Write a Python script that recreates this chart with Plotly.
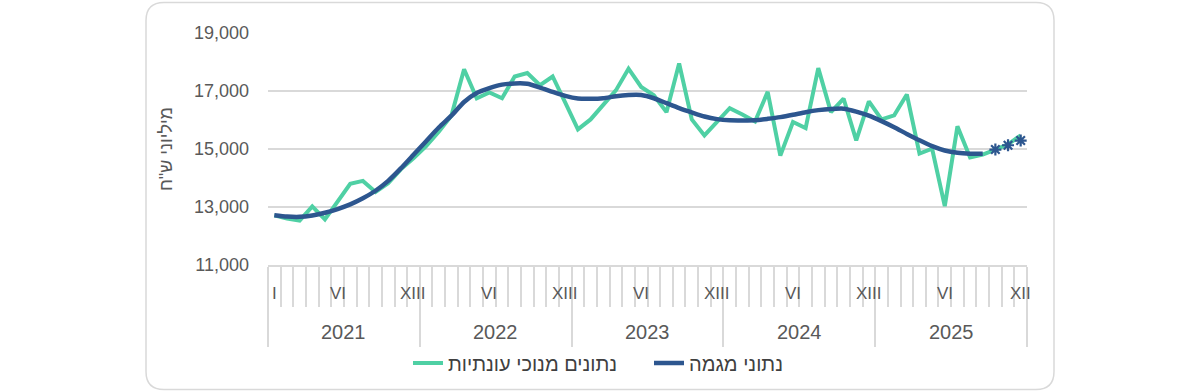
import plotly.graph_objects as go

# ---------------- data ----------------
years = ["2021", "2022", "2023", "2024", "2025"]
month_index = list(range(60))

seasonally_adjusted = [
    12710, 12600, 12530, 13020, 12570, 13180, 13800, 13900, 13520, 13820, 14300, 14680,
    15100, 15600, 16150, 17750, 16750, 16950, 16750, 17500, 17620, 17200, 17500, 16600,
    15680, 16020, 16500, 17020, 17770, 17140, 16850, 16270, 17950, 16020, 15470, 15950,
    16410, 16190, 15950, 16970, 14770, 15930, 15720, 17790, 16270, 16740, 15300, 16640,
    16020, 16160, 16880, 14840, 15010, 13030, 15780, 14710, 14810, 14980, 15160, 15470,
]

trend = [
    12715, 12670, 12660, 12710, 12800, 12930, 13090, 13300, 13560, 13900, 14330, 14800,
    15270, 15740, 16150, 16620, 16930, 17100, 17220, 17260, 17250, 17120, 16970, 16830,
    16740, 16730, 16750, 16820, 16860, 16860, 16750, 16580, 16410, 16260, 16120, 16030,
    15990, 15985, 15990, 16040, 16100, 16180, 16270, 16340, 16380, 16390, 16290, 16150,
    15960, 15750, 15520, 15300, 15100, 14950, 14870, 14840, 14840, 14980, 15130, 15290,
]
n_final_trend = 57  # last three trend points are shown as markers only

month_tick_pos = [0, 5, 11, 17, 23, 29, 35, 41, 47, 53, 59]
month_tick_text = ["I", "VI", "XIII", "VI", "XIII", "VI", "XIII", "VI", "XIII", "VI", "XII"]

y_ticks = [11000, 13000, 15000, 17000, 19000]

name_sa = "נתונים מנוכי עונתיות"
name_trend = "נתוני מגמה"
y_title = 'מיליוני ש"ח'

# ---------------- style ----------------
GREEN = "#4fd0a4"
BLUE = "#2d568f"
GRID = "#d9d9d9"
TXT = "#595959"
FONT = "Arial, 'Liberation Sans', sans-serif"

W, H = 1200, 392
ML, MR, MT, MB = 268, 173, 33, 127
PW, PH = W - ML - MR, H - MT - MB

fig = go.Figure()
fig.add_trace(go.Scatter(
    x=month_index, y=seasonally_adjusted, mode="lines", name=name_sa,
    line=dict(color=GREEN, width=4), hoverinfo="skip"))
fig.add_trace(go.Scatter(
    x=month_index[:n_final_trend], y=trend[:n_final_trend], mode="lines", name=name_trend,
    line=dict(color=BLUE, width=4.5, shape="spline", smoothing=0.6), hoverinfo="skip"))
fig.add_trace(go.Scatter(
    x=month_index[n_final_trend:], y=trend[n_final_trend:], mode="markers", showlegend=False,
    marker=dict(symbol="asterisk-open", size=10, line=dict(color=BLUE, width=2.2), color=BLUE),
    hoverinfo="skip"))

year_bounds = [i * 12 - 0.5 for i in range(len(years) + 1)]

fig.update_xaxes(
    range=[-0.5, len(month_index) - 0.5], showgrid=False, zeroline=False,
    showline=True, linecolor=GRID, linewidth=1.5,
    tickmode="array", tickvals=year_bounds, ticks="outside", ticklen=80,
    tickwidth=1.5, tickcolor=GRID, showticklabels=False,
    minor=dict(tick0=-0.5, dtick=1, ticks="outside", ticklen=40, tickwidth=1.5, tickcolor=GRID),
)
fig.update_yaxes(
    range=[11000, 19000], tickvals=y_ticks, tickformat=",d", showgrid=True,
    gridcolor=GRID, gridwidth=1.5, zeroline=False, showline=False, ticks="",
    ticklabelstandoff=18, tickfont=dict(size=18, color=TXT, family=FONT),
    title=dict(text=y_title, font=dict(size=18, color=TXT, family=FONT), standoff=16),
)

# category labels (month row + year row)
for pos, txt in zip(month_tick_pos, month_tick_text):
    fig.add_annotation(x=pos, y=(MT + PH - 293) / PH, xref="x", yref="paper",
                       text=txt, showarrow=False, xanchor="center", yanchor="middle",
                       font=dict(size=17, color=TXT, family=FONT))
for k, yr in enumerate(years):
    fig.add_annotation(x=k * 12 + 5.5, y=(MT + PH - 332) / PH, xref="x", yref="paper",
                       text=yr, showarrow=False, xanchor="center", yanchor="middle",
                       font=dict(size=20, color=TXT, family=FONT))

# rounded outer frame
def px(x):
    return (x - ML) / PW

def py(y):
    return (MT + PH - y) / PH

x0, x1, y0, y1, r = 146, 1054, 2.5, 389.5, 18
path = (
    f"M {px(x0 + r)},{py(y0)} L {px(x1 - r)},{py(y0)} Q {px(x1)},{py(y0)} {px(x1)},{py(y0 + r)} "
    f"L {px(x1)},{py(y1 - r)} Q {px(x1)},{py(y1)} {px(x1 - r)},{py(y1)} "
    f"L {px(x0 + r)},{py(y1)} Q {px(x0)},{py(y1)} {px(x0)},{py(y1 - r)} "
    f"L {px(x0)},{py(y0 + r)} Q {px(x0)},{py(y0)} {px(x0 + r)},{py(y0)} Z"
)
fig.add_shape(type="path", path=path, xref="paper", yref="paper",
              line=dict(color=GRID, width=1.5), layer="below")

fig.update_layout(
    width=W, height=H, margin=dict(l=ML, r=MR, t=MT, b=MB, autoexpand=False),
    paper_bgcolor="white", plot_bgcolor="white",
    font=dict(family=FONT, color=TXT),
    showlegend=True,
    legend=dict(orientation="h", x=(408 - ML) / PW, xanchor="left",
                y=py(363), yanchor="middle", font=dict(size=20, color="#404040", family=FONT),
                entrywidth=196, entrywidthmode="pixels",
                bgcolor="rgba(0,0,0,0)"),
)

fig.write_html("out.html", config={"displayModeBar": False},
               post_script="document.body.style.margin='0';document.body.style.overflow='hidden';")
